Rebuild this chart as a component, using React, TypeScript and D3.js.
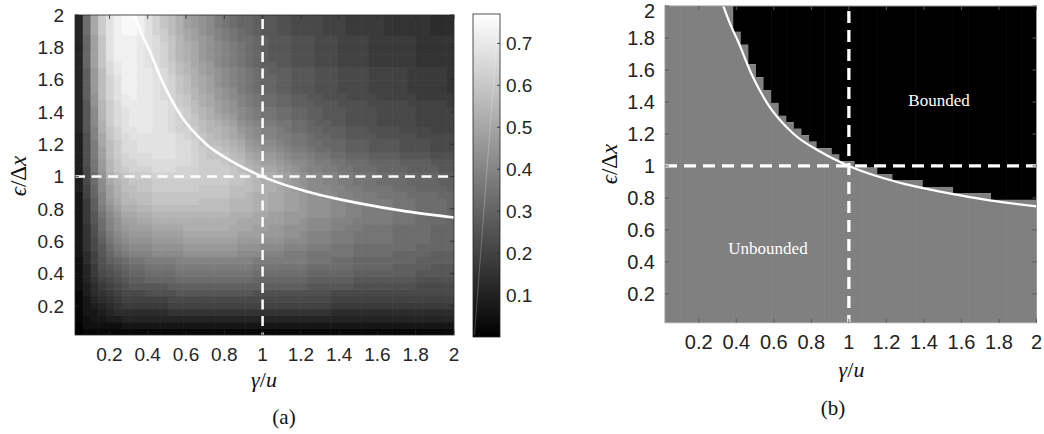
import React from "react";
import * as d3 from "d3";

// ---------- data ----------
const gammaTicks = [0.2, 0.4, 0.6, 0.8, 1, 1.2, 1.4, 1.6, 1.8, 2];
const epsTicks = [0.2, 0.4, 0.6, 0.8, 1, 1.2, 1.4, 1.6, 1.8, 2];
const colorbarTicks = [0.1, 0.2, 0.3, 0.4, 0.5, 0.6, 0.7];

// grid of the two maps: 49 x 49 cells on [0.02, 2] x [0.02, 2]
const GRID_MIN = 0.02;
const GRID_MAX = 2;
const GRID_N = 49;
const VALUE_MAX = 0.77; // top of colour bar
const LEVEL_STEP = 0.022; // heat value = level * LEVEL_STEP

// white boundary curve eps(gamma)
const boundaryGamma = [0.331, 0.37, 0.409, 0.479, 0.566, 0.706, 0.846, 1.0, 1.16, 1.3, 1.5, 1.75, 2.0];
const boundaryEps = [2.0, 1.88, 1.78, 1.58, 1.39, 1.2, 1.09, 1.0, 0.932, 0.886, 0.836, 0.785, 0.747];

// panel (b): number of "unbounded" (grey) cells counted from the bottom, per gamma column
const unboundedCells = [
  49, 49, 49, 49, 49, 49, 49, 49, 49, 45, 43, 40, 38, 36, 34, 32, 31, 30, 29, 28,
  27, 27, 26, 25, 25, 24, 24, 24, 23, 23, 22, 22, 22, 22, 21, 21, 21, 21, 20, 20,
  20, 20, 20, 19, 19, 19, 19, 19, 19,
];

// panel (a): heat levels, row 0 = lowest eps cell, column 0 = lowest gamma cell
const heatLevels: number[][] = [
  [0,1,1,1,1,1,1,1,1,1, 1,1,1,1,1,1,1,1,1,1, 1,1,1,1,1,1,1,1,1,1, 1,1,1,1,1,1,1,1,1,1, 1,1,1,1,1,1,1,1,1],
  [0,2,2,2,2,2,3,3,3,3, 3,3,3,3,3,3,3,3,3,3, 3,3,3,3,3,3,3,3,3,3, 3,3,3,3,3,3,3,3,3,3, 3,3,3,3,3,3,3,3,3],
  [1,2,3,3,4,4,5,5,5,5, 5,5,5,5,5,5,5,5,5,5, 5,5,5,5,5,5,5,5,5,5, 5,5,5,5,5,5,5,5,5,5, 5,5,5,5,5,5,5,5,5],
  [1,3,3,4,5,6,6,6,6,6, 6,6,7,7,7,7,7,7,7,7, 7,7,7,7,7,7,7,7,7,7, 7,7,7,6,6,6,6,6,6,6, 6,6,6,6,6,6,6,6,6],
  [1,3,4,5,6,7,8,8,8,8, 8,8,9,9,9,9,9,9,9,9, 9,9,9,9,9,9,9,9,9,9, 9,9,9,8,8,8,8,8,8,8, 8,8,8,8,8,8,8,8,8],
  [1,3,5,6,7,8,9,9,9,9, 9,9,10,10,10,10,10,10,10,10, 10,10,10,10,10,10,10,10,10,10, 10,10,10,9,9,9,9,9,9,9, 9,9,9,9,9,9,9,9,9],
  [1,4,6,7,8,9,10,10,10,11, 11,11,11,12,12,12,12,12,12,12, 12,12,12,11,11,11,11,11,11,11, 11,11,11,10,10,10,10,10,10,10, 10,10,10,10,10,10,10,10,10],
  [2,4,6,8,9,10,11,12,12,12, 12,12,13,13,13,13,13,13,13,13, 13,13,13,13,13,13,13,13,13,13, 12,12,12,12,12,12,11,11,11,11, 11,11,11,11,10,10,10,10,10],
  [2,5,7,9,10,11,12,13,13,14, 14,14,14,15,15,15,15,15,15,15, 15,15,15,14,14,14,14,14,14,14, 13,13,13,13,13,13,12,12,12,12, 12,12,12,12,11,11,11,11,11],
  [2,5,8,10,11,12,13,14,14,15, 15,15,15,16,16,16,16,16,16,16, 16,16,16,15,15,15,15,15,15,15, 14,14,14,14,14,14,13,13,13,13, 13,13,13,13,12,12,12,12,12],
  [2,5,8,11,12,13,14,15,15,16, 16,16,16,17,17,17,17,17,17,17, 17,17,17,16,16,16,16,16,16,16, 15,15,15,15,15,15,14,14,14,14, 14,13,13,13,13,13,12,12,12],
  [2,6,9,11,13,14,15,16,16,17, 17,17,17,18,18,18,18,18,18,18, 18,18,18,17,17,17,17,17,17,17, 16,16,16,15,15,15,14,14,14,14, 14,14,14,14,13,13,13,13,13],
  [3,6,9,12,14,16,17,18,18,18, 19,19,19,19,20,20,20,20,20,20, 20,19,19,19,18,18,18,17,17,17, 16,16,16,16,16,16,15,15,15,15, 15,14,14,14,14,14,13,13,13],
  [3,7,10,12,15,17,18,19,19,19, 20,20,20,20,21,21,21,21,21,21, 21,20,20,20,19,19,19,18,18,18, 17,17,17,16,16,16,15,15,15,15, 15,15,15,15,14,14,14,14,14],
  [3,7,10,13,16,18,19,20,20,20, 21,21,21,21,22,22,22,22,22,22, 22,21,21,21,20,20,20,19,19,19, 18,18,18,17,17,17,16,16,16,16, 16,15,15,15,15,15,14,14,14],
  [3,7,11,14,17,19,20,21,21,21, 22,22,22,22,23,23,23,23,23,23, 23,22,22,22,21,21,21,20,20,19, 18,18,18,17,17,17,16,16,16,16, 16,15,15,15,15,15,14,14,14],
  [3,7,11,15,18,20,21,22,22,22, 23,23,23,23,24,24,24,24,24,24, 23,23,23,22,22,21,21,20,20,20, 19,19,19,18,18,17,17,16,16,16, 16,15,15,15,15,15,14,14,14],
  [3,8,12,15,18,20,22,22,23,23, 24,24,24,24,24,24,24,24,24,24, 24,23,23,23,22,22,22,21,21,20, 19,19,19,18,18,18,17,17,17,17, 17,16,16,16,15,15,15,15,14],
  [3,8,12,16,19,21,23,23,24,24, 25,25,25,25,25,25,25,25,25,25, 24,24,24,23,23,22,22,21,21,21, 20,20,20,19,19,18,18,17,17,17, 17,16,16,16,15,15,15,15,14],
  [3,8,13,17,20,22,24,24,25,25, 26,26,26,26,26,26,26,26,26,26, 25,25,25,24,24,23,23,22,22,21, 20,20,20,19,19,18,18,17,17,17, 17,16,16,16,15,15,15,15,14],
  [3,8,13,18,21,23,25,25,26,26, 27,27,27,27,27,27,26,26,26,26, 25,25,25,24,24,23,23,22,22,21, 20,20,20,19,19,18,18,17,17,17, 17,16,16,16,15,15,15,15,14],
  [3,9,14,18,22,24,25,26,26,26, 27,27,27,27,27,27,27,27,27,27, 26,26,25,24,24,23,23,22,22,21, 20,20,19,19,18,18,17,17,17,16, 16,16,16,15,15,15,15,14,14],
  [4,9,14,19,22,24,26,26,27,27, 28,28,28,28,28,28,27,27,27,27, 26,26,26,25,24,24,23,22,21,20, 19,19,19,18,18,17,17,16,16,16, 16,15,15,15,14,14,14,14,13],
  [4,10,15,19,23,25,26,27,27,27, 28,28,28,28,28,28,28,28,28,28, 27,27,26,25,24,24,23,22,21,20, 19,19,18,18,17,17,16,16,16,15, 15,15,15,14,14,14,14,13,13],
  [4,10,15,20,24,26,27,28,28,28, 29,29,29,29,29,29,28,28,28,28, 27,27,26,25,24,24,23,22,21,20, 19,19,18,18,17,17,16,16,16,15, 15,15,15,14,14,14,14,13,13],
  [4,10,16,21,25,27,28,29,29,29, 30,30,30,29,29,29,28,28,28,28, 27,26,25,24,23,23,22,21,20,19, 18,18,17,17,16,16,15,15,15,14, 14,14,14,13,13,13,13,12,12],
  [4,11,16,21,25,27,29,29,30,30, 30,30,30,30,30,29,28,28,28,27, 26,26,24,23,22,22,21,20,19,19, 18,17,17,16,16,15,15,15,14,14, 14,14,13,13,13,13,12,12,12],
  [4,11,17,22,26,28,29,30,30,30, 31,31,31,30,30,29,28,27,27,27, 26,25,23,22,21,21,20,19,18,18, 17,16,16,15,15,14,14,14,13,13, 13,13,12,12,12,12,11,11,11],
  [4,11,17,22,26,28,30,30,31,31, 31,31,31,30,30,29,28,27,27,26, 25,24,22,21,20,20,19,18,17,17, 16,15,15,14,14,13,13,13,12,12, 12,12,11,11,11,11,10,10,10],
  [4,11,17,23,26,28,30,30,31,31, 31,31,31,30,30,29,27,26,26,25, 24,23,21,20,19,19,18,17,16,16, 15,15,14,14,14,13,13,13,12,12, 12,12,11,11,11,11,10,10,10],
  [4,11,18,23,27,29,30,31,31,31, 31,31,31,30,29,28,27,26,25,24, 23,22,20,19,18,18,17,17,16,16, 15,14,14,13,13,12,12,12,12,11, 11,11,11,11,10,10,10,10,10],
  [5,12,18,24,27,29,31,31,32,32, 31,31,30,29,29,28,26,25,25,24, 23,21,20,19,18,18,17,16,15,15, 14,14,13,13,13,12,12,12,11,11, 11,11,10,10,10,10,9,9,9],
  [5,12,19,24,28,30,31,32,32,32, 31,31,30,29,28,27,26,25,24,23, 22,20,19,18,17,17,16,16,15,15, 14,13,13,12,12,11,11,11,11,10, 10,10,10,10,9,9,9,9,9],
  [5,12,19,25,28,30,31,32,32,32, 31,31,30,29,28,27,25,24,23,22, 21,19,18,17,16,16,15,15,14,14, 13,13,12,12,12,11,11,11,11,10, 10,10,10,10,9,9,9,9,9],
  [5,12,19,25,28,30,31,32,32,32, 31,31,30,29,28,26,25,24,22,21, 20,19,18,17,16,16,15,15,14,14, 13,13,12,12,12,11,11,11,11,10, 10,10,10,10,9,9,9,9,9],
  [5,12,20,25,28,30,32,32,32,32, 31,31,30,28,27,26,24,23,22,21, 20,18,17,16,15,15,14,14,13,13, 13,12,12,12,11,11,11,11,10,10, 10,10,10,9,9,9,9,9,8],
  [5,13,20,26,29,31,32,33,32,32, 31,30,29,28,27,25,24,23,21,20, 19,18,17,16,15,15,14,14,13,13, 12,12,11,11,11,10,10,10,10,9, 9,9,9,9,8,8,8,8,8],
  [5,13,21,26,29,31,33,33,32,32, 31,30,29,27,26,25,23,22,21,20, 19,17,16,15,14,14,13,13,12,12, 12,11,11,11,10,10,10,10,9,9, 9,9,9,8,8,8,8,8,7],
  [5,13,21,26,29,31,33,33,32,32, 31,30,29,27,26,24,23,22,20,19, 18,17,16,15,14,14,13,13,12,12, 12,11,11,11,10,10,10,10,9,9, 9,9,9,8,8,8,8,8,7],
  [5,13,21,26,29,31,33,33,32,32, 31,30,29,27,26,24,23,22,20,19, 18,17,16,15,14,14,13,13,12,12, 12,11,11,11,10,10,10,10,9,9, 9,9,9,8,8,8,8,8,7],
  [5,13,21,26,30,32,33,33,32,32, 31,30,28,26,25,24,22,21,20,19, 18,17,16,15,14,13,13,13,12,12, 12,11,11,11,10,10,10,10,9,9, 9,9,9,8,8,8,8,8,7],
  [5,14,22,27,30,32,33,33,32,31, 30,29,28,26,25,23,22,21,19,18, 17,16,15,14,13,13,12,12,11,11, 11,10,10,10,9,9,9,9,8,8, 8,8,8,8,7,7,7,7,7],
  [5,14,22,27,31,33,33,33,32,31, 30,29,27,25,24,23,21,20,19,18, 17,16,15,14,13,12,12,12,11,11, 11,10,10,10,9,9,9,9,8,8, 8,8,8,8,7,7,7,7,7],
  [5,14,22,27,31,33,33,33,32,31, 30,29,27,25,24,23,21,20,19,18, 17,16,15,14,13,12,12,12,11,11, 11,10,10,10,9,9,9,9,8,8, 8,8,8,8,7,7,7,7,7],
  [5,14,22,27,31,33,33,33,32,31, 30,29,27,25,24,23,21,20,19,18, 17,16,15,14,13,12,12,12,11,11, 11,10,10,10,9,9,9,9,8,8, 8,8,8,8,7,7,7,7,7],
  [5,14,22,27,31,33,33,33,32,31, 30,28,27,25,23,22,21,20,18,17, 16,15,15,14,13,12,12,12,11,11, 11,10,10,10,9,9,9,9,8,8, 8,8,8,8,7,7,7,7,7],
  [5,15,23,28,31,33,34,34,33,31, 29,28,26,24,23,22,20,19,18,17, 16,15,14,13,12,12,11,11,10,10, 10,10,9,9,9,8,8,8,8,8, 7,7,7,7,7,7,6,6,6],
  [5,15,23,28,31,33,34,34,33,31, 29,27,26,24,22,21,20,19,17,16, 15,14,14,13,12,12,11,11,10,10, 10,10,9,9,9,8,8,8,8,8, 7,7,7,7,7,7,6,6,6],
  [5,15,23,28,31,33,34,34,33,31, 29,27,26,24,22,21,20,19,17,16, 15,14,14,13,12,12,11,11,10,10, 10,10,9,9,9,8,8,8,8,8, 7,7,7,7,7,7,6,6,6],
];

// ---------- layout ----------
const A = { x0: 75, x1: 454, y0: 15, y1: 335 };
const B = { x0: 665, x1: 1036.5, y0: 6, y1: 322.7 };
const CB = { x0: 473, x1: 500, y0: 14, y1: 337 };

const SANS = "Liberation Sans, Arial, Helvetica, sans-serif";
const SERIF = "Liberation Serif, DejaVu Serif, Times New Roman, serif";
const AXIS = "#262626";

const edges = d3.range(GRID_N + 1).map((k) => GRID_MIN + (k * (GRID_MAX - GRID_MIN)) / GRID_N);

function fmt(v: number) {
  return String(v);
}

function EpsLabel({ x, y, size }: { x: number; y: number; size: number }) {
  return (
    <text transform={`translate(${x},${y}) rotate(-90)`} textAnchor="middle" fontFamily={SERIF} fontSize={size} fill="#111">
      <tspan fontStyle="italic">ϵ</tspan>
      <tspan>/Δ</tspan>
      <tspan fontStyle="italic">x</tspan>
    </text>
  );
}

function GammaLabel({ x, y, size }: { x: number; y: number; size: number }) {
  return (
    <text x={x} y={y} textAnchor="middle" fontFamily={SERIF} fontSize={size} fill="#111">
      <tspan fontStyle="italic">γ</tspan>
      <tspan>/</tspan>
      <tspan fontStyle="italic">u</tspan>
    </text>
  );
}

export default function App() {
  // panel (a) scales
  const xA = d3.scaleLinear().domain([GRID_MIN, GRID_MAX]).range([A.x0, A.x1]);
  const yA = d3.scaleLinear().domain([GRID_MIN, GRID_MAX]).range([A.y1, A.y0]);
  // panel (b) scales
  const xB = d3.scaleLinear().domain([GRID_MIN, GRID_MAX]).range([B.x0, B.x1]);
  const yB = d3.scaleLinear().domain([GRID_MIN, GRID_MAX]).range([B.y1, B.y0]);
  // colour
  const color = d3.scaleLinear<string>().domain([0, VALUE_MAX]).range(["#000000", "#ffffff"]).clamp(true);
  const yCB = d3.scaleLinear().domain([0, VALUE_MAX]).range([CB.y1, CB.y0]);

  const pts = boundaryGamma.map((g, k) => [g, boundaryEps[k]] as [number, number]);
  const lineA = d3.line<[number, number]>().x((d) => xA(d[0])).y((d) => yA(d[1])).curve(d3.curveMonotoneX);
  const lineB = d3.line<[number, number]>().x((d) => xB(d[0])).y((d) => yB(d[1])).curve(d3.curveMonotoneX);

  const tickLen = 4;

  return (
    <svg width={1044} height={434} style={{ position: "absolute", left: 0, top: 0, background: "#fff" }}>
      <defs>
        <clipPath id="clipA">
          <rect x={A.x0} y={A.y0} width={A.x1 - A.x0} height={A.y1 - A.y0} />
        </clipPath>
        <clipPath id="clipB">
          <rect x={B.x0} y={B.y0} width={B.x1 - B.x0} height={B.y1 - B.y0} />
        </clipPath>
        <linearGradient id="cbGrad" x1="0" y1="1" x2="0" y2="0">
          <stop offset="0" stopColor="#000" />
          <stop offset="1" stopColor="#fff" />
        </linearGradient>
      </defs>

      {/* ---------------- panel (a) ---------------- */}
      <g clipPath="url(#clipA)">
        {heatLevels.map((row, i) =>
          row.map((lvl, j) => {
            const x = xA(edges[j]);
            const y = yA(edges[i + 1]);
            const w = xA(edges[j + 1]) - x;
            const h = yA(edges[i]) - y;
            return <rect key={`h${i}-${j}`} x={x} y={y} width={w + 0.6} height={h + 0.6} fill={color(lvl * LEVEL_STEP)} />;
          })
        )}
        <path d={lineA(pts) || ""} fill="none" stroke="#fff" strokeWidth={2.6} />
        <line x1={A.x0} x2={A.x1} y1={yA(1)} y2={yA(1)} stroke="#fff" strokeWidth={2.5} strokeDasharray="10 6.5" />
        <line x1={xA(1)} x2={xA(1)} y1={A.y0} y2={A.y1} stroke="#fff" strokeWidth={2.5} strokeDasharray="10 6.5" strokeDashoffset={-4} />
      </g>
      <rect x={A.x0} y={A.y0} width={A.x1 - A.x0} height={A.y1 - A.y0} fill="none" stroke={AXIS} strokeWidth={0.8} />
      {gammaTicks.map((t) => (
        <g key={`axa${t}`}>
          <line x1={xA(t)} x2={xA(t)} y1={A.y1} y2={A.y1 - tickLen} stroke={AXIS} strokeWidth={0.8} />
          <line x1={xA(t)} x2={xA(t)} y1={A.y0} y2={A.y0 + tickLen} stroke={AXIS} strokeWidth={0.8} />
          <text x={xA(t)} y={361} textAnchor="middle" fontFamily={SANS} fontSize={19} fill={AXIS}>
            {fmt(t)}
          </text>
        </g>
      ))}
      {epsTicks.map((t) => (
        <g key={`aya${t}`}>
          <line x1={A.x0} x2={A.x0 + tickLen} y1={yA(t)} y2={yA(t)} stroke={AXIS} strokeWidth={0.8} />
          <line x1={A.x1} x2={A.x1 - tickLen} y1={yA(t)} y2={yA(t)} stroke={AXIS} strokeWidth={0.8} />
          <text x={64} y={yA(t)} dy="0.36em" textAnchor="end" fontFamily={SANS} fontSize={19} fill={AXIS}>
            {fmt(t)}
          </text>
        </g>
      ))}
      <GammaLabel x={264} y={387} size={22} />
      <EpsLabel x={26} y={176} size={23} />
      <text x={284} y={424} textAnchor="middle" fontFamily={SERIF} fontSize={21} fill="#111">
        (a)
      </text>

      {/* colour bar */}
      <rect x={CB.x0} y={CB.y0} width={CB.x1 - CB.x0} height={CB.y1 - CB.y0} fill="url(#cbGrad)" />
      <line x1={CB.x0 + 1.5} y1={CB.y1 - 2} x2={CB.x1 - 1.5} y2={CB.y0 + 2} stroke="#ffffff" strokeOpacity={0.35} strokeWidth={0.7} />
      <rect x={CB.x0} y={CB.y0} width={CB.x1 - CB.x0} height={CB.y1 - CB.y0} fill="none" stroke={AXIS} strokeWidth={0.8} />
      {colorbarTicks.map((t) => (
        <g key={`cb${t}`}>
          <line x1={CB.x1} x2={CB.x1 - 3} y1={yCB(t)} y2={yCB(t)} stroke={AXIS} strokeWidth={0.8} />
          <text x={506} y={yCB(t)} dy="0.36em" fontFamily={SANS} fontSize={19} fill={AXIS}>
            {fmt(t)}
          </text>
        </g>
      ))}

      {/* ---------------- panel (b) ---------------- */}
      <g clipPath="url(#clipB)">
        {unboundedCells.map((n, j) => {
          const x = xB(edges[j]);
          const w = xB(edges[j + 1]) - x + 0.6;
          const split = yB(edges[n]);
          return (
            <g key={`b${j}`}>
              <rect x={x} y={B.y0} width={w} height={Math.max(0, split - B.y0)} fill="#000" />
              <rect x={x} y={split} width={w} height={Math.max(0, B.y1 - split)} fill="#808080" />
            </g>
          );
        })}
        <path d={lineB(pts) || ""} fill="none" stroke="#fff" strokeWidth={2.2} />
        <line x1={B.x0} x2={B.x1} y1={yB(1)} y2={yB(1)} stroke="#fff" strokeWidth={3.3} strokeDasharray="12 7" />
        <line x1={xB(1)} x2={xB(1)} y1={B.y0} y2={B.y1} stroke="#fff" strokeWidth={3.3} strokeDasharray="12 7" strokeDashoffset={-5} />
      </g>
      <rect x={B.x0} y={B.y0} width={B.x1 - B.x0} height={B.y1 - B.y0} fill="none" stroke="#9a9a9a" strokeWidth={1} />
      {gammaTicks.map((t) => (
        <g key={`bxa${t}`}>
          <line x1={xB(t)} x2={xB(t)} y1={B.y1} y2={B.y1 - tickLen} stroke="#5a5a5a" strokeWidth={1} />
          <line x1={xB(t)} x2={xB(t)} y1={B.y0} y2={B.y0 + tickLen} stroke="#5a5a5a" strokeWidth={1} />
          <text x={xB(t)} y={349} textAnchor="middle" fontFamily={SANS} fontSize={20} fill="#222">
            {fmt(t)}
          </text>
        </g>
      ))}
      {epsTicks.map((t) => (
        <g key={`bya${t}`}>
          <line x1={B.x0} x2={B.x0 + tickLen} y1={yB(t)} y2={yB(t)} stroke="#5a5a5a" strokeWidth={1} />
          <line x1={B.x1} x2={B.x1 - tickLen} y1={yB(t)} y2={yB(t)} stroke="#5a5a5a" strokeWidth={1} />
          <text x={655} y={Math.max(yB(t), 11)} dy="0.36em" textAnchor="end" fontFamily={SANS} fontSize={20} fill="#222">
            {fmt(t)}
          </text>
        </g>
      ))}
      <text x={939} y={106} textAnchor="middle" fontFamily={SERIF} fontSize={17} fill="#fff">
        Bounded
      </text>
      <text x={768} y={254} textAnchor="middle" fontFamily={SERIF} fontSize={17} fill="#fff">
        Unbounded
      </text>
      <GammaLabel x={851.5} y={377} size={22} />
      <EpsLabel x={617} y={164} size={23} />
      <text x={833} y={415} textAnchor="middle" fontFamily={SERIF} fontSize={21} fill="#111">
        (b)
      </text>
    </svg>
  );
}
